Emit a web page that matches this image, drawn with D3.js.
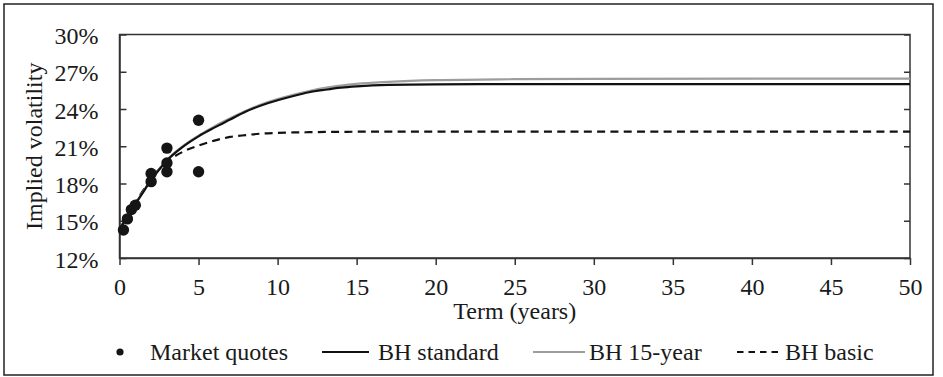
<!DOCTYPE html>
<html>
<head>
<meta charset="utf-8">
<script src="https://cdn.jsdelivr.net/npm/d3@7"></script>
<style>
  html, body { margin: 0; padding: 0; background: #fff; }
  svg text { font-family: "Liberation Serif", "Times New Roman", Times, "DejaVu Serif", serif; }
</style>
</head>
<body>
<svg id="chart" width="943" height="377"></svg>
<script>
// Market quotes (term in years, implied volatility in %)
const quoteTerms = [0.25, 0.5, 0.75, 1, 2, 2, 3, 3, 3, 5, 5];
const quoteVols  = [14.25, 15.15, 15.9, 16.25, 18.8, 18.15, 20.85, 19.65, 18.95, 23.1, 18.95];

// Fitted term structures
const curveTerms = [0, 0.5, 1, 1.5, 2, 2.5, 3, 4, 5, 6, 7, 8, 9, 10, 11, 12, 13, 14, 15, 17, 20, 25, 30, 40, 50];
const bhStandard = [14.3, 15.35, 16.35, 17.3, 18.3, 19.1, 19.85, 20.95, 21.8, 22.5, 23.15, 23.8, 24.3, 24.7, 25.05, 25.35, 25.55, 25.72, 25.83, 25.95, 25.99, 26.0, 26.01, 26.01, 26.01];
const bh15Year   = [14.3, 15.35, 16.4, 17.35, 18.35, 19.15, 19.9, 21.0, 21.85, 22.6, 23.25, 23.85, 24.38, 24.8, 25.15, 25.45, 25.7, 25.88, 26.02, 26.18, 26.32, 26.4, 26.43, 26.45, 26.45];
const bhBasic    = [14.3, 15.4, 16.45, 17.45, 18.4, 19.15, 19.75, 20.55, 21.05, 21.45, 21.75, 21.9, 22.02, 22.07, 22.11, 22.13, 22.15, 22.16, 22.17, 22.17, 22.17, 22.17, 22.17, 22.17, 22.17];

const xTicks = [0, 5, 10, 15, 20, 25, 30, 35, 40, 45, 50];
const yTicks = [12, 15, 18, 21, 24, 27, 30];

const legendLabels = ["Market quotes", "BH standard", "BH 15-year", "BH basic"];

const svg = d3.select("#chart");
const plot = { left: 119.5, right: 910, top: 34.5, bottom: 258 };
const FONT = 24;
const SERIF = "Liberation Serif, Times New Roman, Times, serif";

const x = d3.scaleLinear().domain([0, 50]).range([plot.left, plot.right]);
const y = d3.scaleLinear().domain([12, 30]).range([plot.bottom, plot.top]);

// outer frame
svg.append("rect")
  .attr("x", 4).attr("y", 4).attr("width", 929).attr("height", 371)
  .attr("fill", "none").attr("stroke", "#222").attr("stroke-width", 1.5);

// plot box
svg.append("rect")
  .attr("x", plot.left).attr("y", plot.top)
  .attr("width", plot.right - plot.left).attr("height", plot.bottom - plot.top)
  .attr("fill", "none").attr("stroke", "#333").attr("stroke-width", 1.5);

// x axis: ticks outward
const xAxis = svg.append("g")
  .attr("transform", `translate(0,${plot.bottom})`)
  .call(d3.axisBottom(x).tickValues(xTicks).tickSize(7).tickSizeOuter(0).tickPadding(14));
xAxis.attr("font-family", SERIF).attr("font-size", FONT);
xAxis.select(".domain").attr("stroke", "#333").attr("stroke-width", 1.5);
xAxis.selectAll(".tick line").attr("stroke", "#333").attr("stroke-width", 1.5);
xAxis.selectAll(".tick text")
  .attr("fill", "#1a1a1a").attr("dy", null).attr("y", 37);

// y axis: ticks inward on both sides
const yAxis = svg.append("g")
  .attr("transform", `translate(${plot.left},0)`)
  .call(d3.axisLeft(y).tickValues(yTicks).tickFormat(d => d + "%").tickSize(-7).tickSizeOuter(0));
yAxis.attr("font-family", SERIF).attr("font-size", FONT);
yAxis.select(".domain").attr("stroke", "#333").attr("stroke-width", 1.5);
yAxis.selectAll(".tick line").attr("stroke", "#333").attr("stroke-width", 1.5);
yAxis.selectAll(".tick text")
  .attr("fill", "#1a1a1a").attr("dy", null).attr("y", 9).attr("x", -21);

const yAxisR = svg.append("g")
  .attr("transform", `translate(${plot.right},0)`)
  .call(d3.axisRight(y).tickValues(yTicks).tickFormat("").tickSize(-6).tickSizeOuter(0));
yAxisR.select(".domain").remove();
yAxisR.selectAll(".tick line").attr("stroke", "#333").attr("stroke-width", 1.5);

// axis titles
svg.append("text")
  .attr("transform", `translate(42,${(plot.top + plot.bottom) / 2}) rotate(-90)`)
  .attr("text-anchor", "middle").attr("font-size", FONT).attr("fill", "#1a1a1a")
  .text("Implied volatility");

svg.append("text")
  .attr("x", (plot.left + plot.right) / 2).attr("y", 319)
  .attr("text-anchor", "middle").attr("font-size", FONT).attr("fill", "#1a1a1a")
  .text("Term (years)");

// curves
const line = vals => d3.line()
  .x((d, i) => x(curveTerms[i]))
  .y(d => y(d))
  .curve(d3.curveMonotoneX)(vals);

svg.append("path").attr("d", line(bhBasic))
  .attr("fill", "none").attr("stroke", "#111").attr("stroke-width", 2.2)
  .attr("stroke-dasharray", "8,5.3");
svg.append("path").attr("d", line(bh15Year))
  .attr("fill", "none").attr("stroke", "#9d9d9d").attr("stroke-width", 2.2);
svg.append("path").attr("d", line(bhStandard))
  .attr("fill", "none").attr("stroke", "#111").attr("stroke-width", 2.2);

// market quotes
svg.append("g").selectAll("circle")
  .data(quoteTerms.map((t, i) => ({ t, v: quoteVols[i] })))
  .join("circle")
  .attr("cx", d => x(d.t)).attr("cy", d => y(d.v)).attr("r", 5.7)
  .attr("fill", "#151515");

// legend
const legY = 352;
const leg = svg.append("g").attr("font-size", FONT).attr("fill", "#1a1a1a");
leg.append("circle").attr("cx", 120).attr("cy", legY).attr("r", 3.6).attr("fill", "#151515");
leg.append("text").attr("x", 150).attr("y", legY + 8).text(legendLabels[0]);
leg.append("line").attr("x1", 322).attr("x2", 369).attr("y1", legY).attr("y2", legY)
  .attr("stroke", "#111").attr("stroke-width", 2.2);
leg.append("text").attr("x", 378).attr("y", legY + 8).text(legendLabels[1]);
leg.append("line").attr("x1", 533).attr("x2", 585).attr("y1", legY).attr("y2", legY)
  .attr("stroke", "#9d9d9d").attr("stroke-width", 2.2);
leg.append("text").attr("x", 589).attr("y", legY + 8).text(legendLabels[2]);
leg.append("line").attr("x1", 737).attr("x2", 780).attr("y1", legY).attr("y2", legY)
  .attr("stroke", "#111").attr("stroke-width", 2.2).attr("stroke-dasharray", "6.5,5");
leg.append("text").attr("x", 785).attr("y", legY + 8).text(legendLabels[3]);
</script>
</body>
</html>
